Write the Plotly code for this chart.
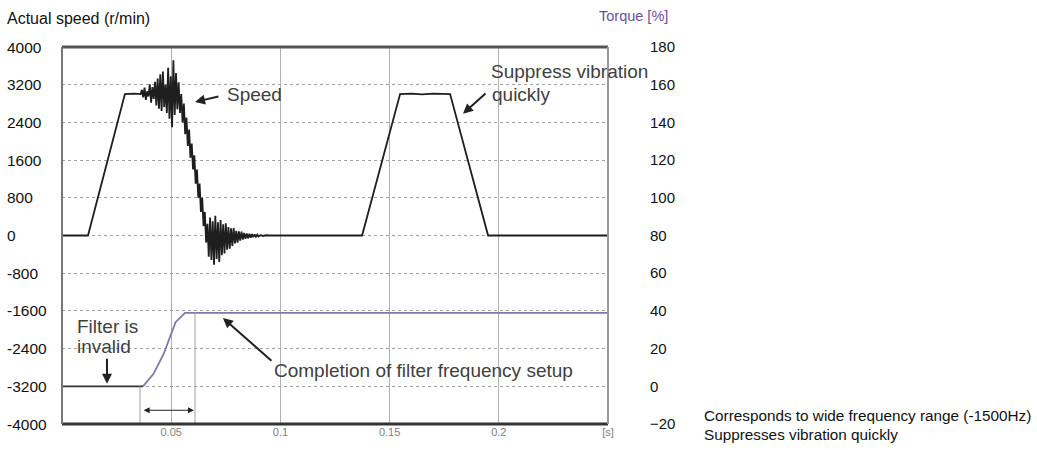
import plotly.graph_objects as go

# ---------------- data ----------------
speed_t = [0.0, 0.0119, 0.0288, 0.0330,
           0.0360, 0.0366, 0.0372, 0.0378, 0.0384, 0.0390, 0.0396, 0.0402, 0.0408, 0.0414,
           0.0420, 0.0426, 0.0432, 0.0438, 0.0444, 0.0450, 0.0456, 0.0462, 0.0468, 0.0474,
           0.0480, 0.0486, 0.0492, 0.0498, 0.0504, 0.0510, 0.0516, 0.0522, 0.0528,
           0.0534, 0.0540, 0.0546, 0.0552, 0.0558, 0.0564, 0.0570, 0.0576, 0.0582, 0.0588,
           0.0594, 0.0600, 0.0606, 0.0612, 0.0618, 0.0624, 0.0630, 0.0636, 0.0642, 0.0648,
           0.0654, 0.0660, 0.0666,
           0.0672, 0.0678, 0.0684, 0.0690, 0.0696, 0.0702, 0.0708, 0.0714, 0.0720, 0.0726,
           0.0732, 0.0738, 0.0744, 0.0750, 0.0756, 0.0762, 0.0768, 0.0774, 0.0780, 0.0786,
           0.0792, 0.0798, 0.0804, 0.0810, 0.0816, 0.0822, 0.0828, 0.0834, 0.0840, 0.0846,
           0.0852, 0.0858, 0.0864, 0.0870, 0.0876, 0.0882, 0.0888, 0.0894, 0.0900,
           0.0910, 0.0920, 0.0935, 0.0950,
           0.1374, 0.1548, 0.1600, 0.1650, 0.1700, 0.1777, 0.1951, 0.2500]
speed_v = [0, 0, 3000, 3010,
           3000, 3090, 2930, 3140, 2880, 3060, 2950, 3210, 2820, 3150,
           2900, 3260, 2760, 3330, 2690, 3420, 2640, 3480, 2720, 3200,
           2600, 3560, 2480, 3380, 2300, 3720, 2560, 3450, 2680,
           3250, 2600, 3000, 2400, 2800, 2150, 2500, 1900, 2250, 1650,
           1950, 1400, 1700, 1100, 1400, 800, 1100, 500, 800, 200,
           500, -150, 250,
           -450, 380, -520, 300, -620, 420, -500, 280, -560, 330,
           -420, 240, -380, 260, -300, 180, -280, 150, -220, 160,
           -170, 100, -150, 90, -110, 80, -85, 55, -70, 45,
           -60, 35, -45, 30, -35, 25, -25, 18, -20,
           10, -10, 5, 0,
           0, 3000, 3010, 2995, 3010, 3000, 0, 0]

torque_off_t = [0.0, 0.0371]
torque_off_v = [0, 0]
torque_on_t = [0.0371, 0.0419, 0.0465, 0.0497, 0.0520, 0.0563, 0.2500]
torque_on_v = [0, 6.6, 17, 27.4, 34, 39, 39]

setup_start_t = 0.0357
setup_end_t = 0.0609

x_tickvals = [0.05, 0.10, 0.15, 0.20, 0.25]
x_ticktext = ["0.05", "0.1", "0.15", "0.2", "[s]"]
speed_ticks = [4000, 3200, 2400, 1600, 800, 0, -800, -1600, -2400, -3200, -4000]
torque_ticks = [180, 160, 140, 120, 100, 80, 60, 40, 20, 0, -20]

FONT = "Liberation Sans, Arial, Helvetica, sans-serif"

fig = go.Figure()

fig.add_trace(go.Scatter(x=speed_t, y=speed_v, mode="lines",
                         line=dict(color="#1e1e1e", width=1.8), showlegend=False,
                         hoverinfo="skip"))
fig.add_trace(go.Scatter(x=torque_off_t, y=torque_off_v, mode="lines", yaxis="y2",
                         line=dict(color="#333333", width=1.8), showlegend=False))
fig.add_trace(go.Scatter(x=torque_on_t, y=torque_on_v, mode="lines", yaxis="y2",
                         line=dict(color="#7c7aa8", width=1.8), showlegend=False))
# setup-interval markers
fig.add_trace(go.Scatter(x=[setup_start_t, setup_start_t], y=[0, -20], mode="lines", yaxis="y2",
                         line=dict(color="#a0a0a0", width=1), showlegend=False))
fig.add_trace(go.Scatter(x=[setup_end_t, setup_end_t], y=[39, -20], mode="lines", yaxis="y2",
                         line=dict(color="#a0a0a0", width=1), showlegend=False))

fig.update_layout(
    width=1037, height=450,
    margin=dict(l=62, r=429, t=47, b=19),
    paper_bgcolor="white", plot_bgcolor="white",
    font=dict(family=FONT, size=15, color="#111111"),
    xaxis=dict(range=[0, 0.25], tickvals=x_tickvals, ticktext=x_ticktext,
               showgrid=True, gridcolor="#b0b0b0", gridwidth=1,
               tickfont=dict(size=11, color="#808080"), ticks="",
               zeroline=False, showline=False, fixedrange=True),
    yaxis=dict(range=[-4000, 4000], tickvals=speed_ticks, showticklabels=False,
               showgrid=True, gridcolor="#a0a0a0", griddash="dot", gridwidth=1,
               zeroline=False, showline=False),
    yaxis2=dict(range=[-20, 180], tickvals=torque_ticks, overlaying="y", side="right",
                showgrid=False, zeroline=False, showline=False, ticks="",
                tickfont=dict(size=15, color="#111111"), ticklabelstandoff=41),
)

# frame
fig.add_shape(type="line", xref="paper", yref="paper", x0=0, x1=1, y0=1, y1=1,
              line=dict(color="#555555", width=3))
fig.add_shape(type="line", xref="paper", yref="paper", x0=0, x1=1, y0=0, y1=0,
              line=dict(color="#333333", width=3))
fig.add_shape(type="line", xref="paper", yref="paper", x0=0, x1=0, y0=0, y1=1,
              line=dict(color="#777777", width=2))
fig.add_shape(type="line", xref="paper", yref="paper", x0=1, x1=1, y0=0, y1=1,
              line=dict(color="#999999", width=2))

# left tick labels (left aligned like the reference)
for v in speed_ticks:
    fig.add_annotation(x=-0.104, xref="paper", y=v, yref="y", text=str(v),
                       showarrow=False, xanchor="left", yanchor="middle",
                       font=dict(size=15.5, color="#111111"))

# axis titles
fig.add_annotation(x=-0.104, xref="paper", y=1.0755, yref="paper", yanchor="middle",
                   xanchor="left", text="Actual speed (r/min)", showarrow=False,
                   font=dict(size=16, color="#111111"))
fig.add_annotation(x=0.979, xref="paper", y=1.083, yref="paper", yanchor="middle",
                   xanchor="left", text="Torque [%]", showarrow=False,
                   font=dict(size=14.5, color="#6a4fa0"))

ann_color = "#404040"
AF = 19
def arrow(x, y, ax, ay, yref="y"):
    fig.add_annotation(x=x, y=y, ax=ax, ay=ay, xref="x", yref=yref,
                       axref="x", ayref=yref, text="", showarrow=True, arrowhead=2,
                       arrowsize=1, arrowwidth=2, arrowcolor="#222222")

def label(x, y, text):
    fig.add_annotation(x=x, y=y, xref="x", yref="y", text=text, showarrow=False,
                       xanchor="left", yanchor="middle",
                       font=dict(size=AF, color=ann_color))

# Speed
arrow(0.0609, 2833, 0.0723, 2958)
label(0.0745, 3000, "Speed")
# Suppress vibration quickly
arrow(0.1836, 2583, 0.1946, 3041)
label(0.1955, 3479, "Suppress vibration")
label(0.1960, 3000, "quickly")
# Filter is invalid
arrow(0.0206, -3145, 0.0206, -2583)
label(0.0060, -1937, "Filter is")
label(0.0060, -2354, "invalid")
# Completion of filter frequency setup
arrow(0.0737, -1750, 0.0966, -2687)
label(0.0962, -2875, "Completion of filter frequency setup")
# double arrow of setup interval
fig.add_annotation(x=setup_end_t - 0.0005, y=-12.7, ax=setup_start_t + 0.0010, ay=-12.7,
                   xref="x", yref="y2", axref="x", ayref="y2", text="", showarrow=True,
                   arrowhead=2, startarrowhead=2, arrowside="end+start", arrowsize=1,
                   arrowwidth=1.2, arrowcolor="#222222")

# bottom-right note
fig.add_annotation(x=1.172, xref="paper", y=0.0234, yref="paper", yanchor="middle",
                   xanchor="left", text="Corresponds to wide frequency range (-1500Hz)",
                   showarrow=False, font=dict(size=15.3, color="#111111"))
fig.add_annotation(x=1.172, xref="paper", y=-0.0286, yref="paper", yanchor="middle",
                   xanchor="left", text="Suppresses vibration quickly",
                   showarrow=False, font=dict(size=15.3, color="#111111"))

# remove the default 8px page margin so the figure fills the window exactly
fig.write_html("out.html", config={"displayModeBar": False},
               post_script="document.body.style.margin='0';document.body.style.overflow='hidden';")
